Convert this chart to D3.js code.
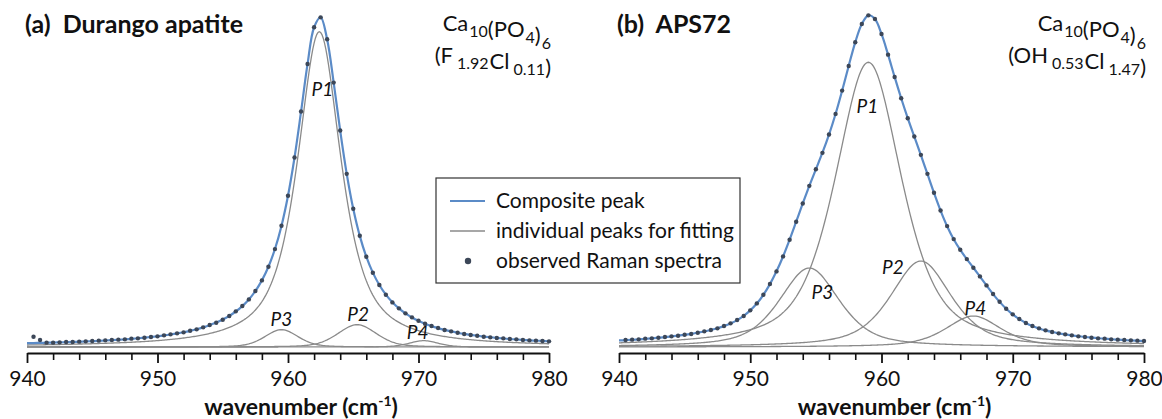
<!DOCTYPE html>
<html>
<head>
<meta charset="utf-8">
<script src="https://d3js.org/d3.v7.min.js"></script>
<style>
  body { margin: 0; background: #fff; }
  svg text { font-family: Lato, "Open Sans", sans-serif; fill: #111; }
</style>
</head>
<body>
<svg id="chart" width="1162" height="419"></svg>
<script>
// wavenumber sampling (cm-1): fit curve and measured points
const fitWave = d3.range(940, 980.25, 0.5);
const obsWave = d3.range(940.5, 980.25, 0.5);

// (a) Durango apatite
const compositeA = [
  0.0115, 0.0119, 0.0124, 0.0129, 0.0134, 0.0140, 0.0146, 0.0152, 0.0160, 0.0167,
  0.0176, 0.0185, 0.0195, 0.0206, 0.0218, 0.0231, 0.0246, 0.0262, 0.0280, 0.0300,
  0.0322, 0.0347, 0.0376, 0.0408, 0.0444, 0.0486, 0.0534, 0.0590, 0.0655, 0.0733,
  0.0824, 0.0934, 0.1066, 0.1229, 0.1429, 0.1681, 0.2000, 0.2410, 0.2942, 0.3636,
  0.4541, 0.5690, 0.7066, 0.8500, 0.9603, 0.9900, 0.9235, 0.7940, 0.6495, 0.5200,
  0.4151, 0.3336, 0.2712, 0.2233, 0.1863, 0.1573, 0.1344, 0.1160, 0.1010, 0.0887,
  0.0785, 0.0700, 0.0628, 0.0567, 0.0514, 0.0468, 0.0429, 0.0394, 0.0364, 0.0337,
  0.0313, 0.0292, 0.0272, 0.0255, 0.0240, 0.0226, 0.0213, 0.0201, 0.0191, 0.0181,
  0.0172
];
const observedA = [
  0.031, 0.021, 0.013, 0.013, 0.014, 0.015, 0.015, 0.016, 0.017,
  0.018, 0.019, 0.020, 0.021, 0.022, 0.023, 0.025, 0.026, 0.028, 0.030,
  0.032, 0.035, 0.038, 0.041, 0.044, 0.049, 0.053, 0.059, 0.066, 0.073,
  0.082, 0.093, 0.107, 0.123, 0.143, 0.168, 0.200, 0.241, 0.294, 0.364,
  0.454, 0.569, 0.707, 0.850, 0.960, 0.990, 0.924, 0.794, 0.650, 0.520,
  0.415, 0.334, 0.271, 0.223, 0.186, 0.157, 0.134, 0.116, 0.101, 0.089,
  0.079, 0.070, 0.063, 0.057, 0.051, 0.047, 0.043, 0.039, 0.036, 0.034,
  0.031, 0.029, 0.027, 0.026, 0.024, 0.023, 0.021, 0.020, 0.019, 0.018,
  0.017
];
const peakNames = ["P1", "P2", "P3", "P4"];
const centreA = [962.4, 965.3, 959.5, 970.4];
const heightA = [0.947, 0.067, 0.052, 0.019];
const fwhmA = [4.0, 3.5, 3.0, 2.6];
const lorentzA = [0.8, 0.3, 0.3, 0.3];

// (b) APS72
const compositeB = [
  0.0196, 0.0206, 0.0218, 0.0230, 0.0245, 0.0260, 0.0277, 0.0295, 0.0317, 0.0340,
  0.0365, 0.0394, 0.0427, 0.0465, 0.0510, 0.0562, 0.0626, 0.0706, 0.0807, 0.0934,
  0.1099, 0.1305, 0.1566, 0.1887, 0.2272, 0.2719, 0.3223, 0.3763, 0.4311, 0.4836,
  0.5336, 0.5834, 0.6378, 0.6998, 0.7696, 0.8440, 0.9150, 0.9700, 0.9960, 0.9850,
  0.9400, 0.8780, 0.8110, 0.7470, 0.6874, 0.6318, 0.5765, 0.5196, 0.4629, 0.4096,
  0.3628, 0.3236, 0.2916, 0.2640, 0.2380, 0.2115, 0.1848, 0.1589, 0.1355, 0.1150,
  0.0978, 0.0836, 0.0723, 0.0630, 0.0557, 0.0499, 0.0450, 0.0411, 0.0378, 0.0349,
  0.0323, 0.0301, 0.0281, 0.0263, 0.0249, 0.0233, 0.0219, 0.0207, 0.0196, 0.0186,
  0.0177
];
const observedB = [
  0.021, 0.022, 0.023, 0.025, 0.026, 0.028, 0.030, 0.032, 0.034,
  0.037, 0.039, 0.043, 0.047, 0.051, 0.056, 0.063, 0.071, 0.081, 0.093,
  0.110, 0.131, 0.157, 0.189, 0.227, 0.272, 0.322, 0.376, 0.431, 0.484,
  0.534, 0.583, 0.638, 0.700, 0.770, 0.844, 0.915, 0.970, 0.996, 0.985,
  0.940, 0.878, 0.811, 0.747, 0.687, 0.632, 0.577, 0.520, 0.463, 0.410,
  0.363, 0.324, 0.292, 0.264, 0.238, 0.212, 0.185, 0.159, 0.136, 0.115,
  0.098, 0.084, 0.072, 0.063, 0.056, 0.050, 0.045, 0.041, 0.038, 0.035,
  0.032, 0.030, 0.028, 0.026, 0.025, 0.023, 0.022, 0.021, 0.020, 0.019,
  0.018
];
const centreB = [959.0, 963.0, 954.5, 967.0];
const heightB = [0.855, 0.258, 0.237, 0.093];
const fwhmB = [6.0, 5.5, 5.4, 5.0];
const lorentzB = [0.6, 0.6, 0.55, 0.6];

const majorTicks = [940, 950, 960, 970, 980];
const minorTicks = [942, 944, 946, 948, 952, 954, 956, 958, 962, 964, 966, 968, 972, 974, 976, 978];
const legendLabels = ["Composite peak", "individual peaks for fitting", "observed Raman spectra"];

const blue = "#5b8bc7", grey = "#8a8a8a", dotCol = "#3c4758";
const svg = d3.select("#chart");

function pseudoVoigt(w, c, h, fwhm, eta) {
  const a = (w - c) / fwhm;
  return h * (eta / (1 + 4 * a * a) + (1 - eta) * Math.exp(-4 * Math.LN2 * a * a));
}

const y = d3.scaleLinear().domain([0, 1]).range([347, 14]);
const fineWave = d3.range(940, 980.01, 0.1);

const panels = [
  { x0: 27, x1: 549, title: "(a)  Durango apatite", comp: compositeA, obs: observedA,
    centre: centreA, height: heightA, fwhm: fwhmA, eta: lorentzA,
    labelOff: [[3, 58], [1, -10], [0, -10], [-6, -8]],
    formula: [["Ca", "10"], ["(PO", "4"], [")", "6"]],
    formula2: [["(F", "1.92"], ["Cl", "0.11"], [")", ""]] },
  { x0: 619, x1: 1144, title: "(b)  APS72", comp: compositeB, obs: observedB,
    centre: centreB, height: heightB, fwhm: fwhmB, eta: lorentzB,
    labelOff: [[-1, 44], [-28, 6], [13, 24], [2, -8]],
    formula: [["Ca", "10"], ["(PO", "4"], [")", "6"]],
    formula2: [["(OH", "0.53"], ["Cl", "1.47"], [")", ""]] }
];

panels.forEach(p => {
  const x = d3.scaleLinear().domain([940, 980]).range([p.x0, p.x1]);
  const g = svg.append("g");

  // individual fitted peaks
  peakNames.forEach((name, i) => {
    const line = d3.line()
      .x(w => x(w))
      .y(w => y(pseudoVoigt(w, p.centre[i], p.height[i], p.fwhm[i], p.eta[i])));
    g.append("path")
      .datum(fineWave)
      .attr("d", line)
      .attr("fill", "none")
      .attr("stroke", grey)
      .attr("stroke-width", 1.3);

    g.append("text")
      .attr("x", x(p.centre[i]) + p.labelOff[i][0])
      .attr("y", y(p.height[i]) + p.labelOff[i][1])
      .attr("dy", "0.35em")
      .attr("text-anchor", "middle")
      .style("font-style", "italic")
      .style("font-size", "19px")
      .text(name);
  });

  // composite peak
  g.append("path")
    .datum(p.comp)
    .attr("d", d3.line().x((v, i) => x(fitWave[i])).y(v => y(v)).curve(d3.curveCatmullRom))
    .attr("fill", "none")
    .attr("stroke", blue)
    .attr("stroke-width", 2.2);

  // observed spectrum
  g.selectAll(".obs")
    .data(p.obs)
    .enter().append("circle")
    .attr("cx", (v, i) => x(obsWave[i]))
    .attr("cy", v => y(v))
    .attr("r", 2.2)
    .attr("fill", dotCol);

  // axes
  const minor = g.append("g")
    .attr("transform", "translate(0,353)")
    .call(d3.axisBottom(x).tickValues(minorTicks).tickSize(7).tickSizeOuter(0).tickFormat(""));
  minor.select(".domain").remove();
  minor.selectAll("line").attr("stroke", "#111").attr("stroke-width", 1.6);

  const major = g.append("g")
    .attr("transform", "translate(0,353)")
    .call(d3.axisBottom(x).tickValues(majorTicks).tickSize(10).tickSizeOuter(0).tickPadding(8));
  major.select(".domain").attr("stroke", "#111").attr("stroke-width", 2);
  major.selectAll("line").attr("stroke", "#111").attr("stroke-width", 1.8);
  major.selectAll("text")
    .attr("font-family", "Lato, sans-serif")
    .attr("font-size", 21)
    .attr("fill", "#222");

  const xt = g.append("text")
    .attr("x", (p.x0 + p.x1) / 2 + 13)
    .attr("y", 415)
    .attr("text-anchor", "middle")
    .style("font-weight", "bold")
    .style("font-size", "23px");
  xt.append("tspan").text("wavenumber (cm");
  xt.append("tspan").attr("dy", -9).style("font-size", "14px").text("-1");
  xt.append("tspan").attr("dy", 9).text(")");

  // panel title
  g.append("text")
    .attr("x", p.x0 - 2)
    .attr("y", 33)
    .style("font-weight", "bold")
    .style("font-size", "25px")
    .style("white-space", "pre")
    .text(p.title);

  // chemical formula
  [[p.formula, 31, 0], [p.formula2, 63, 3]].forEach(([parts, base, gap]) => {
    const t = g.append("text")
      .attr("x", p.x1 + 2)
      .attr("y", base)
      .attr("text-anchor", "end")
      .style("font-size", "22px");
    parts.forEach(([main, sub], k) => {
      t.append("tspan").attr("dx", k === 1 && gap ? 1 : 0).text(main);
      if (sub) {
        t.append("tspan").attr("dy", 6).attr("dx", 1 + gap).style("font-size", "16px").text(sub);
        t.append("tspan").attr("dy", -6).text("");
      }
    });
  });
});

// legend
const lg = svg.append("g").attr("transform", "translate(436,178)");
lg.append("rect").attr("width", 304).attr("height", 105)
  .attr("fill", "#fff").attr("stroke", "#333").attr("stroke-width", 1.2);
legendLabels.forEach((label, i) => {
  const ly = 23 + i * 30;
  if (i < 2) {
    lg.append("line").attr("x1", 14).attr("x2", 49).attr("y1", ly).attr("y2", ly)
      .attr("stroke", i === 0 ? blue : grey).attr("stroke-width", i === 0 ? 2.2 : 1.3);
  } else {
    lg.append("circle").attr("cx", 32).attr("cy", ly).attr("r", 3.2).attr("fill", dotCol);
  }
  lg.append("text").attr("x", 60).attr("y", ly).attr("dy", "0.35em")
    .style("font-size", "21px").text(label);
});
</script>
</body>
</html>
